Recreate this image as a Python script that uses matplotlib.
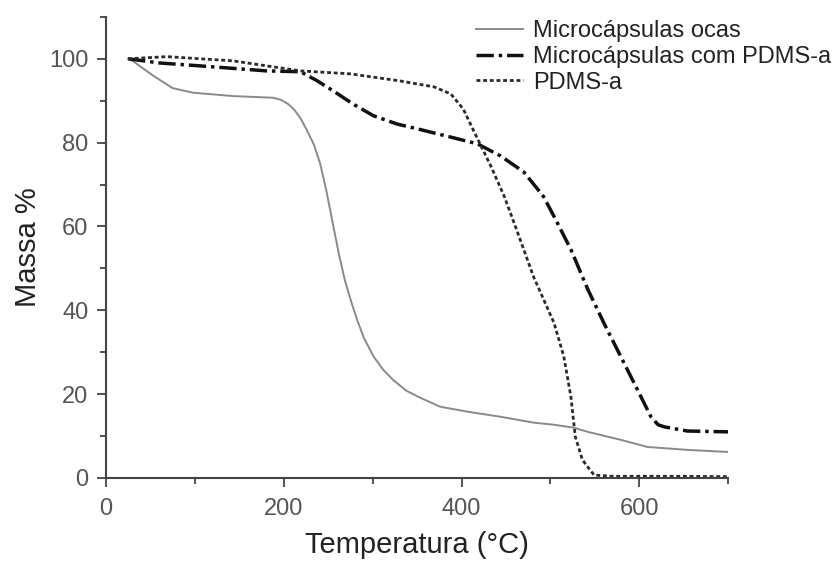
import numpy as np
import matplotlib.pyplot as plt
from matplotlib.ticker import MultipleLocator

plt.rcParams['font.family'] = ['Liberation Sans', 'DejaVu Sans']

# Microcapsulas ocas
T_ocas = [25, 30, 53, 75, 98, 143, 188, 197, 205, 212, 219, 226, 234, 241, 248, 255, 262, 269, 276, 283, 290, 301, 312, 323, 338, 354, 376, 407, 444, 481, 504, 526, 542, 579, 609, 654, 700]
M_ocas = [100, 99.5, 96, 93, 91.9, 91.1, 90.7, 90.2, 89.2, 87.8, 85.8, 83, 79.5, 75, 68.5, 61, 53.5, 47, 42, 37.5, 33.5, 29, 25.8, 23.4, 20.8, 19.1, 17, 15.8, 14.6, 13.2, 12.7, 12, 11, 9.1, 7.4, 6.7, 6.2]

# Microcapsulas com PDMS-a
T_com = [25, 60, 106, 181, 219, 238, 256, 278, 301, 328, 350, 388, 418, 444, 470, 492, 504, 523, 542, 560, 579, 598, 613, 621, 628, 654, 700]
M_com = [100, 99, 98.3, 97.1, 96.9, 94.7, 92.3, 89.2, 86.4, 84.4, 83.3, 81.3, 79.7, 76.8, 73, 67.2, 62.4, 54.5, 45, 37, 29, 21, 14.6, 12.7, 12.2, 11.2, 11]

# PDMS-a
T_pdms = [25, 69, 143, 219, 275, 331, 369, 388, 402, 418, 433, 448, 463, 481, 504, 515, 523, 528, 536, 549, 570, 600, 650, 700]
M_pdms = [100, 100.5, 99.5, 97.1, 96.4, 94.7, 93.3, 91.6, 88, 80.9, 74.4, 67.2, 58.6, 48, 37, 29, 19.4, 9.8, 4.3, 0.7, 0.4, 0.4, 0.4, 0.3]

fig = plt.figure(figsize=(8.4, 5.61), dpi=100)
ax = fig.add_axes([0.126, 0.148, 0.741, 0.822])

ax.plot(T_ocas, M_ocas, color="#8a8a8a", linewidth=1.4, label="Microcápsulas ocas")
ax.plot(T_com, M_com, color="#111111", linewidth=2.5, linestyle=(0, (5, 1.4, 1, 1.4)),
        label="Microcápsulas com PDMS-a")
ax.plot(T_pdms, M_pdms, color="#2a2a2a", linewidth=2.0, linestyle=(0, (1.4, 1.0)), label="PDMS-a")

ax.set_xlim(0, 700)
ax.set_ylim(0, 110)
ax.xaxis.set_major_locator(MultipleLocator(200))
ax.xaxis.set_minor_locator(MultipleLocator(100))
ax.yaxis.set_major_locator(MultipleLocator(20))
ax.yaxis.set_minor_locator(MultipleLocator(10))

for s in ["top", "right"]:
    ax.spines[s].set_visible(False)
for s in ["left", "bottom"]:
    ax.spines[s].set_linewidth(1.5)
    ax.spines[s].set_color("#444444")

ax.tick_params(which="major", length=6.5, width=1.3, color="#444444", labelsize=17,
               labelcolor="#555555")
ax.tick_params(which="minor", length=4, width=1.3, color="#444444")
ax.tick_params(axis="y", pad=6)
ax.tick_params(axis="x", pad=8)

ax.set_xlabel("Temperatura (°C)", fontsize=21, color="#222222", labelpad=8)
ax.set_ylabel("Massa %", fontsize=21, color="#222222", labelpad=5)

leg = ax.legend(loc="upper right", bbox_to_anchor=(0.99, 0.964), bbox_transform=fig.transFigure,
                frameon=False, fontsize=17, handlelength=2.0, handletextpad=0.45,
                labelspacing=0.16, borderpad=0, borderaxespad=0)
for t in leg.get_texts():
    t.set_color("#222222")

fig.savefig("out.png", dpi=100)
